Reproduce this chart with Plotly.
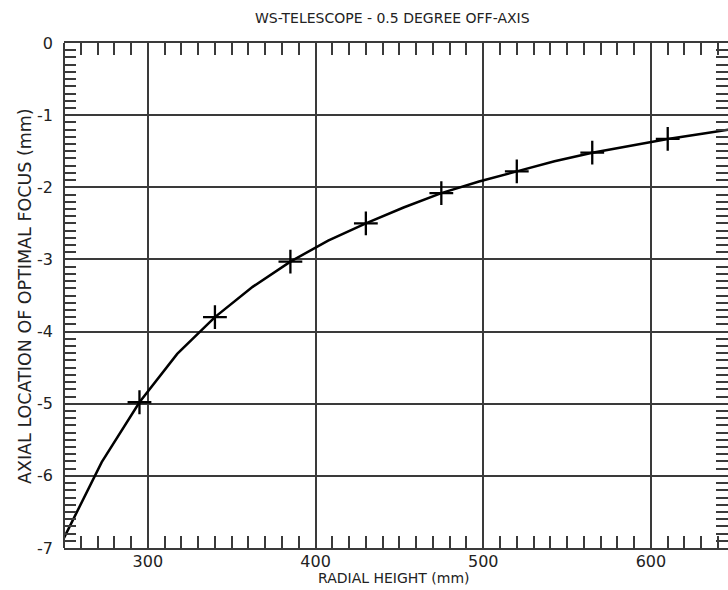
import plotly.graph_objects as go

# Off-axis focus curve of the WS telescope (0.5 degree field angle)
radial_height = [250, 272.5, 295, 317.5, 340, 362.5, 385, 407.5, 430, 452.5,
                 475, 497.5, 520, 542.5, 565, 587.5, 610, 632.5, 655]
focus_location = [-6.86, -5.81, -4.98, -4.31, -3.80, -3.38, -3.03, -2.74, -2.50, -2.28,
                  -2.08, -1.92, -1.78, -1.64, -1.52, -1.42, -1.33, -1.25, -1.17]

# Traced sample points shown with "+" symbols
sample_height = [295, 340, 385, 430, 475, 520, 565, 610]
sample_focus = [-4.98, -3.80, -3.03, -2.50, -2.08, -1.78, -1.52, -1.33]

# Axis tick labels (plain hyphen for negatives)
y_tick_values = [0, -1, -2, -3, -4, -5, -6, -7]
y_tick_labels = ["0", "-1", "-2", "-3", "-4", "-5", "-6", "-7"]

title_text = "WS-TELESCOPE - 0.5 DEGREE OFF-AXIS"
x_title = "RADIAL HEIGHT (mm)"
y_title = "AXIAL LOCATION OF OPTIMAL FOCUS (mm)"

FONT = "DejaVu Sans"
INK = "#222222"
GRID = "#3a3a3a"

fig = go.Figure()
fig.add_trace(go.Scatter(
    x=radial_height, y=focus_location, mode="lines",
    line=dict(color="black", width=2.5), showlegend=False, hoverinfo="skip"))
fig.add_trace(go.Scatter(
    x=sample_height, y=sample_focus, mode="markers",
    marker=dict(symbol="cross-thin", size=17, line=dict(color="black", width=2.3)),
    showlegend=False))

W, H = 728, 590
ML, MR, MT, MB = 64, 0, 43, 42
px_per_unit = 1.677
x_lo = 250
x_hi = x_lo + (W - ML - MR) / px_per_unit
PW, PH = W - ML - MR, H - MT - MB

fig.update_layout(
    width=W, height=H,
    margin=dict(l=ML, r=MR, t=MT, b=MB, pad=0),
    paper_bgcolor="white", plot_bgcolor="white",
    font=dict(family=FONT, color=INK),
    xaxis=dict(
        range=[x_lo, x_hi], tick0=0, dtick=100,
        showgrid=True, gridcolor=GRID, gridwidth=1.5,
        zeroline=False, showline=True, linecolor=GRID, linewidth=2, mirror="ticks",
        ticks="inside", ticklen=12, tickwidth=1.5, tickcolor=GRID,
        minor=dict(dtick=10, ticks="inside", ticklen=12, tickwidth=1.5, tickcolor=GRID,
                   showgrid=False),
        tickfont=dict(size=16, color=INK), ticklabelstandoff=-2,
    ),
    yaxis=dict(
        range=[-7, 0], tickmode="array", tickvals=y_tick_values, ticktext=y_tick_labels,
        showgrid=True, gridcolor=GRID, gridwidth=1.5,
        zeroline=False, showline=False, mirror="ticks",
        ticks="inside", ticklen=12, tickwidth=1.5, tickcolor=GRID,
        minor=dict(tick0=0, dtick=0.1, ticks="inside", ticklen=12, tickwidth=1.5,
                   tickcolor=GRID, showgrid=False),
        tickfont=dict(size=16, color=INK), ticklabelstandoff=10,
    ),
    shapes=[dict(type="line", xref="paper", yref="paper", x0=0, x1=0, y0=0, y1=1,
                 line=dict(color=GRID, width=2))],
    annotations=[
        dict(text=title_text, xref="paper", yref="paper",
             x=(392 - ML) / PW, y=1 + (MT - 18) / PH,
             xanchor="center", yanchor="middle", showarrow=False,
             font=dict(size=14, color=INK, family=FONT)),
        dict(text=x_title, xref="paper", yref="paper",
             x=(394 - ML) / PW, y=-(578 - (H - MB)) / PH,
             xanchor="center", yanchor="middle", showarrow=False,
             font=dict(size=14, color=INK, family=FONT)),
        dict(text=y_title, xref="paper", yref="paper", textangle=-90,
             x=-(ML - 25) / PW, y=1 - (296 - MT) / PH,
             xanchor="center", yanchor="middle", showarrow=False,
             font=dict(size=17.5, color=INK, family=FONT)),
    ],
)

fig.write_html("out.html")
